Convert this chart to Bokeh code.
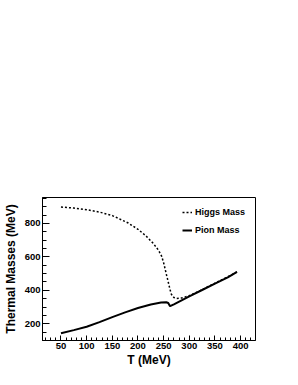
from bokeh.plotting import figure
from bokeh.models import FixedTicker, Range1d
from bokeh.embed import file_html
from bokeh.resources import INLINE

# Data
T_higgs = [50, 75, 100, 125, 150, 180, 200, 215, 230, 240, 246, 250, 255, 259, 262, 265, 270, 275, 285, 300, 325, 350, 375, 393]
M_higgs = [898, 892, 882, 868, 847, 804, 765, 727, 680, 640, 605, 565, 500, 450, 410, 377, 357, 351, 354, 368, 404, 443, 481, 510]

T_pion = [50, 75, 100, 125, 150, 175, 200, 225, 245, 255, 259, 262.5, 270, 300, 325, 350, 375, 393]
M_pion = [143, 162, 182, 210, 240, 268, 294, 315, 327, 329, 324, 305, 316, 364, 402, 440, 477, 510]

x_ticks = [50, 100, 150, 200, 250, 300, 350, 400]
y_ticks = [200, 400, 600, 800]
x_title = "T (MeV)"
y_title = "Thermal Masses (MeV)"

FONT = "Liberation Sans"
X0, X1, Y0, Y1 = 14, 429, 100, 955

p = figure(width=282, height=369, output_backend="svg", toolbar_location=None,
           x_range=Range1d(X0, X1), y_range=Range1d(Y0, Y1),
           min_border_left=0, min_border_right=27, min_border_top=197, min_border_bottom=0)

p.line(T_higgs, M_higgs, line_color="black", line_width=1.5, line_dash="2 2", legend_label="Higgs Mass")
p.line(T_pion, M_pion, line_color="black", line_width=2, legend_label="Pion Mass")

p.grid.visible = False
p.outline_line_color = "black"
p.outline_line_width = 1
p.background_fill_color = "white"
p.border_fill_color = "white"

xa = p.xaxis[0]
xa.ticker = FixedTicker(ticks=x_ticks, minor_ticks=list(range(20, 430, 10)))
xa.axis_label = x_title
xa.major_tick_in = 5
xa.major_tick_out = 0
xa.minor_tick_in = 3
xa.minor_tick_out = 0
xa.major_label_standoff = 2
xa.axis_label_standoff = 1

ya = p.yaxis[0]
ya.ticker = FixedTicker(ticks=y_ticks, minor_ticks=list(range(100, 960, 50)))
ya.axis_label = y_title
ya.major_tick_in = 7
ya.major_tick_out = 0
ya.minor_tick_in = 4
ya.minor_tick_out = 0
ya.major_label_standoff = 2
ya.axis_label_standoff = 4

for ax in (xa, ya):
    ax.axis_line_color = "black"
    ax.major_tick_line_color = "black"
    ax.minor_tick_line_color = "black"
    ax.major_label_text_font = FONT
    ax.major_label_text_font_style = "bold"
    ax.major_label_text_font_size = "9.5px"
    ax.major_label_text_color = "black"
    ax.axis_label_text_font = FONT
    ax.axis_label_text_font_style = "bold"
    ax.axis_label_text_font_size = "12px"
    ax.axis_label_text_color = "black"

leg = p.legend[0]
leg.location = (140, 105)
leg.border_line_alpha = 0
leg.background_fill_alpha = 0
leg.padding = 0
leg.margin = 0
leg.spacing = 8
leg.glyph_width = 10
leg.glyph_height = 10
leg.label_height = 10
leg.label_standoff = 3
leg.label_text_font = FONT
leg.label_text_font_style = "bold"
leg.label_text_font_size = "9px"
leg.label_text_color = "black"

open("out.html", "w").write(file_html(p, INLINE))
